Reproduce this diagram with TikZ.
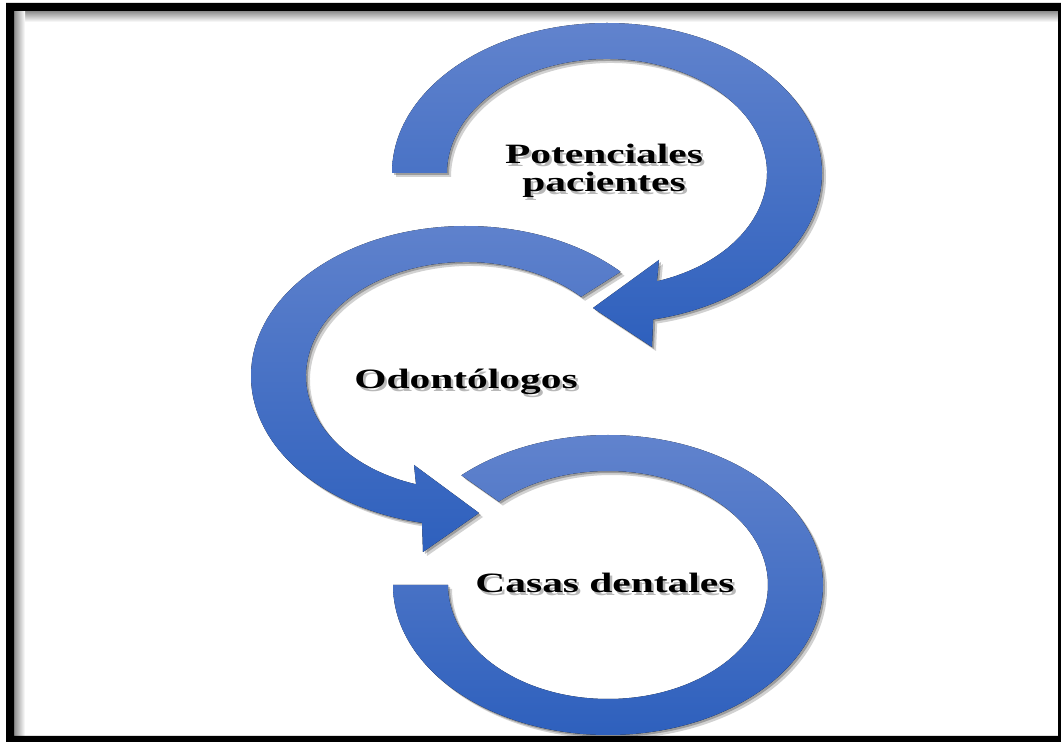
\documentclass[tikz,border=0pt]{standalone}
\usepackage{fontspec}
\setmainfont{Liberation Serif}
\usetikzlibrary{shadows}
\definecolor{ringtop}{RGB}{97,131,205}
\definecolor{ringbot}{RGB}{46,96,189}
\newcommand{\stretchtxt}[1]{\scalebox{1.48}[1]{#1}}
\tikzset{
  ring/.style={top color=ringtop, bottom color=ringbot, draw=none,
    drop shadow={shadow xshift=4pt, shadow yshift=-4pt, opacity=0.18, fill=black},
    drop shadow={shadow xshift=2pt, shadow yshift=-2pt, opacity=0.25, fill=black}},
  ringtext/.style={font=\bfseries\fontsize{28}{28.5}\selectfont, inner sep=0pt, align=center, text=black},
  textshade/.style={ringtext, text=black, opacity=0.28},
}
\begin{document}
\begin{tikzpicture}[x=1pt,y=1pt]
\useasboundingbox (0,0) rectangle (1061,742);
\fill[white] (0,0) rectangle (1061,742);
% inner shadow of the frame
\shade[top color=black!45, bottom color=white] (14,720) rectangle (1058,731);
\shade[left color=black!45, right color=white] (14,6) rectangle (25,731);
% ring centres
\coordinate (c1) at (607,569);
\coordinate (c2) at (466,366);
\coordinate (c3) at (608,157);
% ring 3 (bottom, no head)
\fill[ring] ([shift={(180:215pt and 150pt)}]c3)
  arc[start angle=180, end angle=493, x radius=215pt, y radius=150pt]
  -- ([shift={(493:160pt and 114pt)}]c3)
  arc[start angle=493, end angle=180, x radius=160pt, y radius=114pt] -- cycle;
% ring 2 (middle)
\fill[ring] ([shift={(44:215pt and 150pt)}]c2)
  arc[start angle=44, end angle=258.2, x radius=215pt, y radius=150pt]
  -- (423,190) -- (479,229) -- (414,277)
  -- ([shift={(251.8:160pt and 114pt)}]c2)
  arc[start angle=251.8, end angle=44, x radius=160pt, y radius=114pt] -- cycle;
% ring 1 (top)
\fill[ring] ([shift={(180:215pt and 150pt)}]c1)
  arc[start angle=180, end angle=-77.6, x radius=215pt, y radius=150pt]
  -- (652,395) -- (593,434) -- (659,482)
  -- ([shift={(-71.8:160pt and 114pt)}]c1)
  arc[start angle=-71.8, end angle=180, x radius=160pt, y radius=114pt] -- cycle;
% text shadows
\node[textshade] (pots) at (606.5,568) {\stretchtxt{Potenciales}\\\stretchtxt{pacientes}};
\node[textshade, anchor=base] (odos) at (468.5,350) {\stretchtxt{Odontólogos}};
\node[textshade, anchor=base] (cass) at (607.5,146) {\stretchtxt{Casas dentales}};
% texts
\node[ringtext] (pot) at (604,571) {\stretchtxt{Potenciales}\\\stretchtxt{pacientes}};
\node[ringtext, anchor=base] (odo) at (466,353) {\stretchtxt{Odontólogos}};
\node[ringtext, anchor=base] (cas) at (605,149) {\stretchtxt{Casas dentales}};
% black frame
\fill[black, even odd rule] (6,0) rectangle (1061,739) (14,6) rectangle (1058,731);
\end{tikzpicture}
\end{document}
